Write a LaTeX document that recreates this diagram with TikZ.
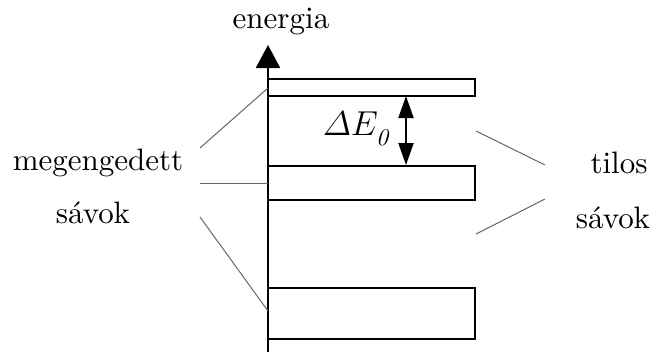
\documentclass[tikz,border=0pt]{standalone}
\usepackage{amsmath}
\usepackage{fontspec}
\setmainfont{lmroman10-regular.otf}[ItalicFont=lmroman10-italic.otf]
\usetikzlibrary{arrows.meta}
\begin{document}
\begin{tikzpicture}[x=0.5pt,y=-0.5pt,
  band/.style={draw,line width=1pt,rectangle,inner sep=0pt,outer sep=0pt},
  lbl/.style={inner sep=0pt,anchor=base,font=\fontsize{15.5}{19}\selectfont},
  thin/.style={draw=black!60,line width=0.5pt},
  axis/.style={line width=1pt,-{Triangle[length=11.5pt,width=12pt]}},
  gap/.style={line width=1pt,{Triangle[length=11pt,width=7.5pt]}-{Triangle[length=11pt,width=7.5pt]}}]
\useasboundingbox (0,0) rectangle (654,354);
% axis
\coordinate (ax0) at (268,352);
\coordinate (ax1) at (268,45);
\draw[axis] (ax0) -- (ax1);
% bands
\node[band,minimum width=103.5pt,minimum height=8.5pt] (b1) at (371.5,87.5) {};
\node[band,minimum width=103.5pt,minimum height=17pt] (b2) at (371.5,182.5) {};
\node[band,minimum width=103.5pt,minimum height=25.5pt] (b3) at (371.5,313) {};
% gap arrow
\coordinate (g1) at (406,96);
\coordinate (g2) at (406,165);
\draw[gap] (g1) -- (g2);
\node[lbl,font=\fontsize{17}{20}\selectfont] (de) at (356,135) {$\varDelta E_{\smash{\lower2.5pt\hbox{$\scriptstyle\mathit{0}$}}}$};
% labels
\node[lbl] (en) at (281,28) {energia};
\node[lbl] (meg) at (98,170) {megengedett};
\node[lbl] (sav1) at (93,223) {sávok};
\node[lbl] (til) at (619,173) {tilos};
\node[lbl] (sav2) at (613,228) {sávok};
% left pointer lines
\coordinate (l1) at (200,148);
\coordinate (l2) at (200,183);
\coordinate (l3) at (200,217);
\coordinate (a1) at (268,88);
\coordinate (a2) at (268,183);
\coordinate (a3) at (268,311);
\draw[thin] (l1) -- (a1);
\draw[thin] (l2) -- (a2);
\draw[thin] (l3) -- (a3);
% right pointer lines
\coordinate (r1) at (545,165);
\coordinate (r2) at (545,199);
\coordinate (t1) at (476,131);
\coordinate (t2) at (476,234);
\draw[thin] (r1) -- (t1);
\draw[thin] (r2) -- (t2);
\end{tikzpicture}
\end{document}
